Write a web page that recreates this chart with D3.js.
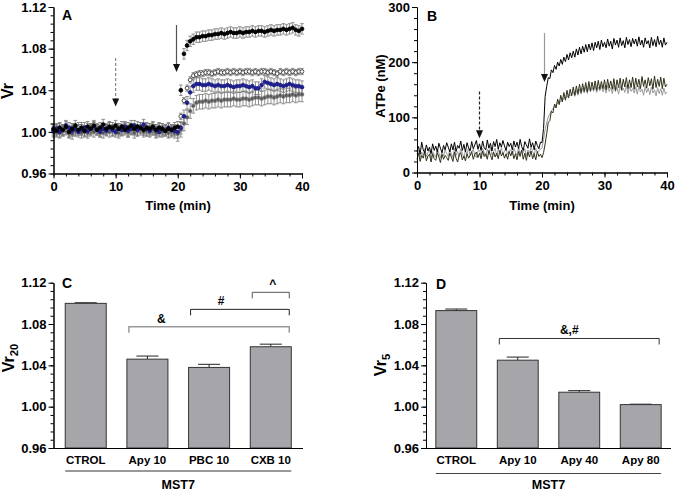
<!DOCTYPE html>
<html>
<head>
<meta charset="utf-8">
<title>Vr and ATPe in MST7</title>
<script src="https://cdn.jsdelivr.net/npm/d3@7"></script>
<style>
  body { margin: 0; background: #fff; }
  svg { font-family: "Liberation Sans", Arial, sans-serif; font-weight: bold; }
</style>
</head>
<body>
<script>
// ---- panel A: Vr, one point every 0.5 min ----
var timeA = d3.range(0, 40.01, 0.5);
var vrCtrol = [
  1.003,1.001,1.004,1.002,1.005,1.000,1.003,1.006,1.002,1.004,
  1.001,1.005,1.003,1.006,1.002,1.004,1.007,1.003,1.005,1.004,
  1.006,1.003,1.005,1.002,1.004,1.006,1.003,1.005,1.004,1.002,
  1.004,1.003,1.005,1.002,1.004,1.003,1.001,1.003,1.002,1.004,
  1.005,1.040,1.075,1.083,1.087,1.089,1.091,1.091,1.092,1.092,
  1.093,1.093,1.094,1.094,1.095,1.094,1.095,1.096,1.095,1.095,
  1.096,1.095,1.096,1.096,1.097,1.096,1.097,1.097,1.096,1.097,
  1.098,1.097,1.098,1.098,1.099,1.098,1.099,1.100,1.098,1.097,
  1.099];
var vrOpen = [
  1.002,1.000,1.003,1.001,1.002,0.999,1.003,1.001,1.004,1.002,
  1.000,1.003,1.001,1.004,1.002,1.000,1.003,1.002,1.004,1.001,
  1.003,1.001,1.002,1.004,1.000,1.003,1.002,1.001,1.004,1.002,
  1.001,1.003,1.002,1.000,1.003,1.001,1.002,1.000,1.001,1.002,
  1.002,1.015,1.030,1.042,1.050,1.054,1.055,1.056,1.056,1.057,
  1.057,1.056,1.057,1.058,1.057,1.057,1.058,1.057,1.058,1.057,
  1.058,1.057,1.058,1.058,1.057,1.058,1.057,1.058,1.058,1.057,
  1.058,1.057,1.056,1.058,1.057,1.058,1.057,1.058,1.057,1.058,
  1.058];
var vrBlue = [
  1.001,1.003,1.000,1.002,1.006,1.004,1.001,1.003,1.000,1.002,
  1.004,1.001,1.003,1.005,1.002,1.000,1.003,1.001,1.004,1.002,
  1.000,1.003,1.002,1.005,1.001,1.003,1.006,1.002,1.004,1.007,
  1.003,1.001,1.004,1.002,1.000,1.003,1.001,1.004,1.002,1.001,
  1.000,1.004,1.015,1.028,1.038,1.044,1.046,1.046,1.045,1.045,
  1.046,1.045,1.044,1.045,1.044,1.044,1.045,1.044,1.043,1.044,
  1.044,1.045,1.044,1.043,1.044,1.042,1.042,1.045,1.048,1.047,
  1.046,1.045,1.046,1.045,1.044,1.045,1.046,1.045,1.044,1.044,
  1.043];
var vrGrey = [
  1.000,1.002,0.999,1.001,1.003,1.000,0.998,1.001,1.002,0.999,
  1.001,0.999,1.002,1.000,1.003,1.001,0.999,1.002,1.000,1.001,
  1.002,0.999,1.001,1.003,1.000,1.002,0.999,1.001,1.002,1.000,
  1.001,1.000,1.002,0.999,1.001,1.000,1.002,0.999,1.000,0.999,
  0.998,1.002,1.008,1.014,1.020,1.025,1.028,1.029,1.029,1.030,
  1.029,1.030,1.030,1.031,1.030,1.031,1.031,1.031,1.032,1.031,
  1.031,1.032,1.032,1.031,1.032,1.033,1.033,1.032,1.033,1.034,
  1.034,1.033,1.034,1.035,1.034,1.035,1.035,1.036,1.035,1.036,
  1.036];
// SEM before / after the 20 min stimulus
var semCtrol = [0.005, 0.005];
var semOpen = [0.005, 0.003];
var semBlue = [0.005, 0.006];
var semGrey = [0.005, 0.007];

// ---- panel B: ATPe (nM), one point every 0.25 min ----
var timeB = d3.range(0, 40.001, 0.25);
var atpCtrol = [
  38,47,33,55,41,36,50,39,46,34,52,40,48,37,53,44,36,49,41,54,
  46,37,52,41,55,38,49,44,57,40,51,37,54,45,39,56,43,50,58,42,
  52,40,57,45,41,59,44,53,39,56,47,60,42,54,46,58,48,40,55,47,
  53,41,57,46,55,43,60,47,40,56,50,44,61,46,54,41,57,49,43,55,
  54,80,138,156,172,170,186,181,194,187,200,193,205,196,209,201,214,204,217,208,
  220,209,224,213,227,215,229,218,232,219,233,222,235,221,236,226,238,223,240,228,
  236,226,242,229,238,224,243,231,240,227,244,230,239,226,245,232,241,228,243,233,
  242,229,246,231,240,227,244,233,239,226,245,230,241,228,247,232,240,227,244,231,
  236];
var atpOlive = [
  24,35,20,31,26,38,21,30,33,19,34,25,22,36,28,18,33,24,31,27,
  22,35,28,20,37,26,19,32,36,23,30,21,34,26,31,38,24,33,37,27,
  35,25,39,29,34,24,40,31,23,37,28,35,25,40,30,36,26,34,24,38,
  30,39,25,34,23,38,29,41,24,35,22,37,28,39,25,34,23,38,29,33,
  27,36,52,70,91,94,111,108,124,117,133,123,140,128,145,131,149,135,151,139,
  155,140,157,143,160,145,161,147,163,146,165,148,164,150,166,149,167,151,165,152,
  168,150,169,153,166,151,170,149,168,154,171,150,169,155,172,152,168,154,173,151,
  171,155,169,152,174,156,168,153,172,157,170,151,175,154,169,156,173,152,171,155,
  160];
var atpGrey = [
  33,40,27,37,31,43,29,36,40,26,38,32,28,42,35,27,39,30,41,34,
  29,42,34,27,44,31,38,28,43,35,26,40,33,45,30,37,42,32,27,39,
  40,31,44,36,29,42,33,46,31,38,44,30,41,35,45,32,39,43,33,40,
  41,32,44,37,31,45,34,40,36,43,30,41,35,46,38,32,44,36,40,42,
  44,60,78,90,101,106,112,116,119,124,125,130,128,135,133,137,136,141,139,143,
  146,138,149,140,151,142,153,144,155,143,156,146,154,147,157,145,155,148,158,146,
  156,144,158,147,154,143,159,146,155,142,157,148,153,145,158,143,156,147,152,144,
  155,142,157,146,151,140,156,145,153,141,155,144,150,139,154,143,152,140,153,142,
  146];

// ---- panels C and D: bars ----
var catC = ["CTROL", "Apy 10", "PBC 10", "CXB 10"];
var vr20 = [1.100, 1.046, 1.038, 1.058];
var vr20Sem = [0.0006, 0.003, 0.003, 0.0025];
var catD = ["CTROL", "Apy 10", "Apy 40", "Apy 80"];
var vr5 = [1.093, 1.045, 1.014, 1.002];
var vr5Sem = [0.0015, 0.003, 0.0015, 0.0004];

var ticksVr = [0.96, 1.00, 1.04, 1.08, 1.12];
var minorVr = d3.range(0.96, 1.1201, 0.008);
var ticksTime = [0, 10, 20, 30, 40];
var minorTime = d3.range(0, 40.1, 2);
var ticksAtp = [0, 100, 200, 300];
var minorAtp = d3.range(0, 301, 20);

var svg = d3.select("body").append("svg")
    .attr("width", 678)
    .attr("height", 492);

function styleAxis(g) {
    g.attr("font-family", null).attr("font-size", 13).attr("font-weight", "bold");
    g.selectAll("line, path").attr("stroke", "#000");
}

function yAxis(x0, y, majors, minors, fmt) {
    svg.append("g").attr("transform", "translate(" + x0 + ",0)")
        .call(d3.axisLeft(y).tickValues(minors).tickSize(3).tickSizeOuter(0).tickFormat(""))
        .call(styleAxis);
    svg.append("g").attr("transform", "translate(" + x0 + ",0)")
        .call(d3.axisLeft(y).tickValues(majors).tickSize(5).tickSizeOuter(0).tickPadding(2).tickFormat(fmt))
        .call(styleAxis);
}

function xAxis(y0, x, majors, minors) {
    svg.append("g").attr("transform", "translate(0," + y0 + ")")
        .call(d3.axisBottom(x).tickValues(minors).tickSize(3).tickSizeOuter(0).tickFormat(""))
        .call(styleAxis);
    svg.append("g").attr("transform", "translate(0," + y0 + ")")
        .call(d3.axisBottom(x).tickValues(majors).tickSize(5).tickSizeOuter(0).tickPadding(3).tickFormat(d3.format("d")))
        .call(styleAxis);
}

function yTitle(x, y, text, sub, size) {
    var t = svg.append("text")
        .attr("transform", "translate(" + x + "," + y + ") rotate(-90)")
        .attr("text-anchor", "middle")
        .attr("font-size", size)
        .text(text);
    if (sub) t.append("tspan").attr("dy", 4).attr("font-size", size * 0.7).text(sub);
}

function arrow(x, y1, y2, dashed, lineColor) {
    svg.append("line")
        .attr("x1", x).attr("x2", x).attr("y1", y1).attr("y2", y2 - 6)
        .attr("stroke", lineColor).attr("stroke-width", 1.2)
        .attr("stroke-dasharray", dashed ? "3,2" : null);
    svg.append("path")
        .attr("d", "M" + (x - 3.5) + "," + (y2 - 8) + "L" + (x + 3.5) + "," + (y2 - 8) + "L" + x + "," + y2 + "Z")
        .attr("fill", "#111");
}

var fmt2 = d3.format(".2f");

// ================= Panel A =================
var xA = d3.scaleLinear().domain([0, 40]).range([53.5, 302]);
var yA = d3.scaleLinear().domain([0.96, 1.12]).range([173.5, 7]);

var seriesA = [
    { v: vrOpen, sem: semOpen, fill: "#fff", stroke: "#222" },
    { v: vrGrey, sem: semGrey, fill: "#555", stroke: "#8a8a8a" },
    { v: vrBlue, sem: semBlue, fill: "#1f1f8c", stroke: "#1f1f8c" },
    { v: vrCtrol, sem: semCtrol, fill: "#000", stroke: "#000" }
];

var gA = svg.append("g");
seriesA.forEach(function (s) {
    var pts = timeA.map(function (t, i) {
        return { t: t, v: s.v[i], e: t < 20 ? s.sem[0] : s.sem[1] };
    });
    var eb = gA.append("g").attr("stroke", "#777").attr("stroke-width", 0.8);
    eb.selectAll("line.v").data(pts).enter().append("line")
        .attr("x1", function (d) { return xA(d.t); })
        .attr("x2", function (d) { return xA(d.t); })
        .attr("y1", function (d) { return yA(d.v - d.e); })
        .attr("y2", function (d) { return yA(d.v + d.e); });
    [-1, 1].forEach(function (sg) {
        eb.selectAll("line.c" + sg).data(pts).enter().append("line")
            .attr("x1", function (d) { return xA(d.t) - 1.8; })
            .attr("x2", function (d) { return xA(d.t) + 1.8; })
            .attr("y1", function (d) { return yA(d.v + sg * d.e); })
            .attr("y2", function (d) { return yA(d.v + sg * d.e); });
    });
    s.pts = pts;
});
seriesA.forEach(function (s) {
    gA.append("g").selectAll("circle").data(s.pts).enter().append("circle")
        .attr("cx", function (d) { return xA(d.t); })
        .attr("cy", function (d) { return yA(d.v); })
        .attr("r", 1.9)
        .attr("fill", s.fill)
        .attr("stroke", s.stroke)
        .attr("stroke-width", 0.8);
});

yAxis(53.5, yA, ticksVr, minorVr, fmt2);
xAxis(173.5, xA, ticksTime, minorTime);
yTitle(13, 91, "Vr", null, 16);
svg.append("text").attr("x", 178).attr("y", 210).attr("text-anchor", "middle").attr("font-size", 13).text("Time (min)");
svg.append("text").attr("x", 62).attr("y", 20).attr("font-size", 14).text("A");
arrow(xA(10), yA(1.071), yA(1.0245), true, "#888");
arrow(xA(19.8), yA(1.1027), yA(1.0575), false, "#555");

// ================= Panel B =================
var xB = d3.scaleLinear().domain([0, 40]).range([417, 667]);
var yB = d3.scaleLinear().domain([0, 300]).range([172.5, 7]);
var lineB = d3.line()
    .x(function (d) { return xB(d[0]); })
    .y(function (d) { return yB(d[1]); });
[[atpGrey, "#9a9a9a"], [atpOlive, "#30301a"], [atpCtrol, "#000"]].forEach(function (p) {
    svg.append("path")
        .datum(timeB.map(function (t, i) { return [t, p[0][i]]; }))
        .attr("fill", "none")
        .attr("stroke", p[1])
        .attr("stroke-width", 1)
        .attr("d", lineB);
});
yAxis(417, yB, ticksAtp, minorAtp, d3.format("d"));
xAxis(172.5, xB, ticksTime, minorTime);
yTitle(385, 86, "ATPe (nM)", null, 13);
svg.append("text").attr("x", 542).attr("y", 210).attr("text-anchor", "middle").attr("font-size", 13).text("Time (min)");
svg.append("text").attr("x", 427).attr("y", 21).attr("font-size", 14).text("B");
arrow(xB(10), yB(147), yB(62), true, "#222");
arrow(xB(20.4), yB(253), yB(164), false, "#999");

// ================= Bar panels =================
function barPanel(x0, x1, cats, vals, sems, opts) {
    var x = d3.scaleBand().domain(cats).range([x0, x1]).paddingInner(0.335).paddingOuter(opts.po);
    var y = d3.scaleLinear().domain([0.96, 1.12]).range([448, 282.7]);
    var g = svg.append("g");
    // error bars (upper only)
    cats.forEach(function (c, i) {
        var cx = x(c) + x.bandwidth() / 2;
        g.append("line").attr("x1", cx).attr("x2", cx)
            .attr("y1", y(vals[i])).attr("y2", y(vals[i] + sems[i]))
            .attr("stroke", "#222").attr("stroke-width", 1);
        g.append("line").attr("x1", cx - 11).attr("x2", cx + 11)
            .attr("y1", y(vals[i] + sems[i])).attr("y2", y(vals[i] + sems[i]))
            .attr("stroke", "#222").attr("stroke-width", 1);
    });
    g.selectAll("rect").data(cats).enter().append("rect")
        .attr("x", function (c) { return x(c); })
        .attr("width", x.bandwidth())
        .attr("y", function (c, i) { return y(vals[i]); })
        .attr("height", function (c, i) { return y(0.96) - y(vals[i]); })
        .attr("fill", "#a6a6aa")
        .attr("stroke", "#333")
        .attr("stroke-width", 1);
    yAxis(x0, y, ticksVr, minorVr, fmt2);
    svg.append("line").attr("x1", x0).attr("x2", x1).attr("y1", 448.5).attr("y2", 448.5).attr("stroke", "#000");
    g.selectAll("text.cat").data(cats).enter().append("text")
        .attr("x", function (c) { return x(c) + x.bandwidth() / 2; })
        .attr("y", 464)
        .attr("text-anchor", "middle")
        .attr("font-size", 11.5)
        .text(function (c) { return c; });
    var first = cats[0], last = cats[cats.length - 1];
    svg.append("line")
        .attr("x1", x(first)).attr("x2", x(last) + x.bandwidth())
        .attr("y1", opts.lineY).attr("y2", opts.lineY)
        .attr("stroke", opts.lineColor).attr("stroke-width", opts.lineW);
    svg.append("text").attr("x", (x(first) + x(last) + x.bandwidth()) / 2).attr("y", 489)
        .attr("text-anchor", "middle").attr("font-size", 12.5).text("MST7");
    // significance brackets
    opts.brackets.forEach(function (b) {
        var bx1 = x(b.from) + 2, bx2 = x(b.to) + x.bandwidth() - 2, by = y(b.y);
        svg.append("path")
            .attr("d", "M" + bx1 + "," + (by + 6) + "V" + by + "H" + bx2 + "V" + (by + 6))
            .attr("fill", "none").attr("stroke", b.color).attr("stroke-width", b.w);
        svg.append("text").attr("x", x(b.label) + x.bandwidth() / 2 + b.dx).attr("y", by - 4)
            .attr("text-anchor", "middle").attr("font-size", 12).text(b.text);
    });
    return x;
}

barPanel(53.5, 303, catC, vr20, vr20Sem, {
    po: 0.19, lineY: 471, lineColor: "#999", lineW: 2,
    brackets: [
        { from: "Apy 10", to: "CXB 10", y: 1.0773, text: "&", label: "Apy 10", dx: 14, color: "#999", w: 1.5 },
        { from: "PBC 10", to: "CXB 10", y: 1.0942, text: "#", label: "PBC 10", dx: 12, color: "#222", w: 1 },
        { from: "CXB 10", to: "CXB 10", y: 1.1107, text: "^", label: "CXB 10", dx: 2, color: "#555", w: 1 }
    ]
});
yTitle(14, 358, "Vr", "20", 16);
svg.append("text").attr("x", 62).attr("y", 288).attr("font-size", 14).text("C");

barPanel(426, 671, catD, vr5, vr5Sem, {
    po: 0.16, lineY: 473.5, lineColor: "#444", lineW: 1,
    brackets: [
        { from: "Apy 10", to: "Apy 80", y: 1.066, text: "&,#", label: "Apy 40", dx: -10, color: "#333", w: 1 }
    ]
});
yTitle(386, 365, "Vr", "5", 16);
svg.append("text").attr("x", 436).attr("y", 289).attr("font-size", 14).text("D");
</script>
</body>
</html>
